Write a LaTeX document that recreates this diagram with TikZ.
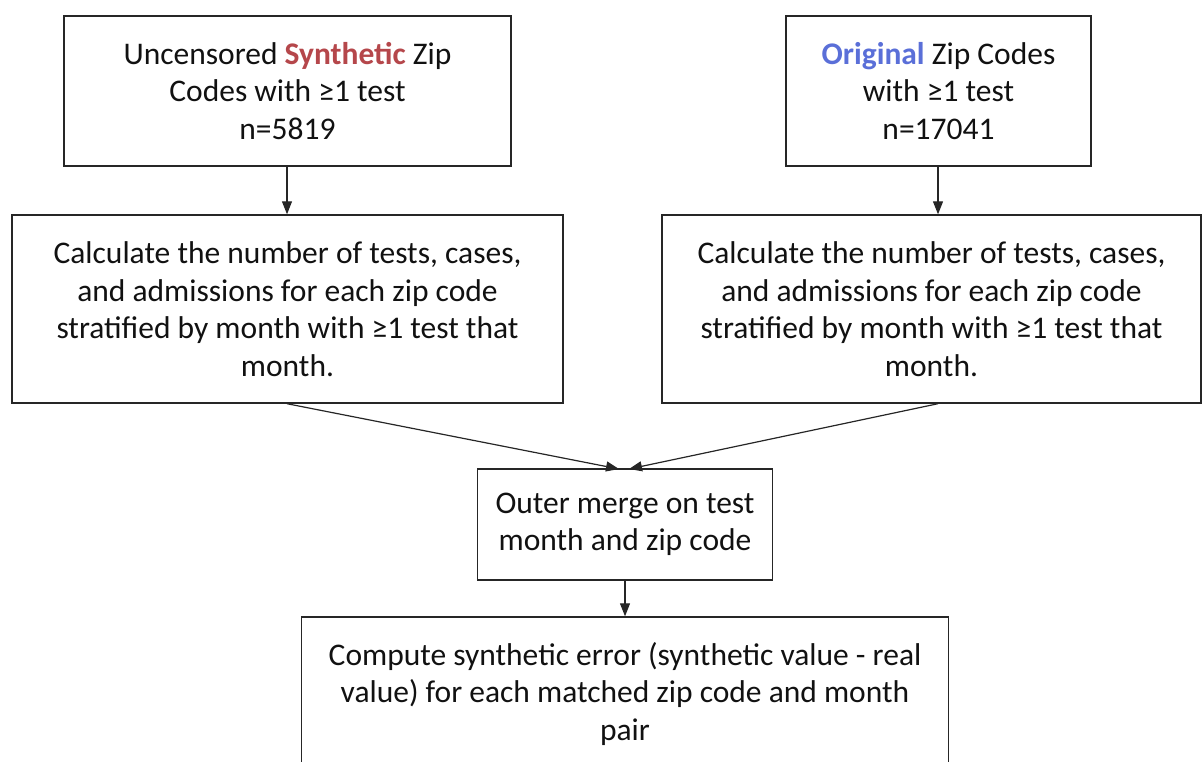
\documentclass[tikz,border=0pt]{standalone}
\usepackage{fontspec}
\setmainfont{Carlito}
\usetikzlibrary{arrows.meta}
\definecolor{synred}{HTML}{B5474B}
\definecolor{origblue}{HTML}{5A6FD8}
\definecolor{txt}{HTML}{111111}
\tikzset{
  box/.style={draw=black!85, line width=1.4pt, align=center, inner sep=0pt, text=txt,
    font=\fontsize{31.5}{37.5}\selectfont},
  conn/.style={line width=1.2pt, draw=black!85, -{Triangle[length=13pt,width=10pt]}}
}
\begin{document}
\begin{tikzpicture}[x=1pt,y=-1pt]
\useasboundingbox (0,0) rectangle (1202,761);
\clip (0,0) rectangle (1202,761);
\node[box, minimum width=447pt, minimum height=150pt] (a) at (287.5,91)
  {Uncensored \textbf{\color{synred}Synthetic} Zip\\Codes with ≥1 test\\n=5819};
\node[box, minimum width=305pt, minimum height=150pt] (b) at (938.5,91)
  {\textbf{\color{origblue}Original} Zip Codes\\with ≥1 test\\n=17041};
\node[box, minimum width=551pt, minimum height=188pt] (c) at (287.5,309)
  {Calculate the number of tests, cases,\\and admissions for each zip code\\stratified by month with ≥1 test that\\month.};
\node[box, minimum width=539pt, minimum height=188pt] (d) at (931.5,309)
  {Calculate the number of tests, cases,\\and admissions for each zip code\\stratified by month with ≥1 test that\\month.};
\node[box, minimum width=295pt, minimum height=111pt] (e) at (625,524.5)
  {Outer merge on test\\month and zip code};
\node[box, minimum width=647pt, minimum height=154pt] (f) at (625,694)
  {Compute synthetic error (synthetic value - real\\value) for each matched zip code and month\\pair};
\coordinate (cin) at (619,469);
\coordinate (din) at (629,469);
\draw[conn] (a.south -| 287,0) -- (c.north -| 287,0);
\draw[conn] (b.south -| 938,0) -- (d.north -| 938,0);
\draw[conn] (c.south -| 287,0) -- (cin);
\draw[conn] (d.south -| 938,0) -- (din);
\draw[conn] (e.south) -- (f.north);
\end{tikzpicture}
\end{document}
